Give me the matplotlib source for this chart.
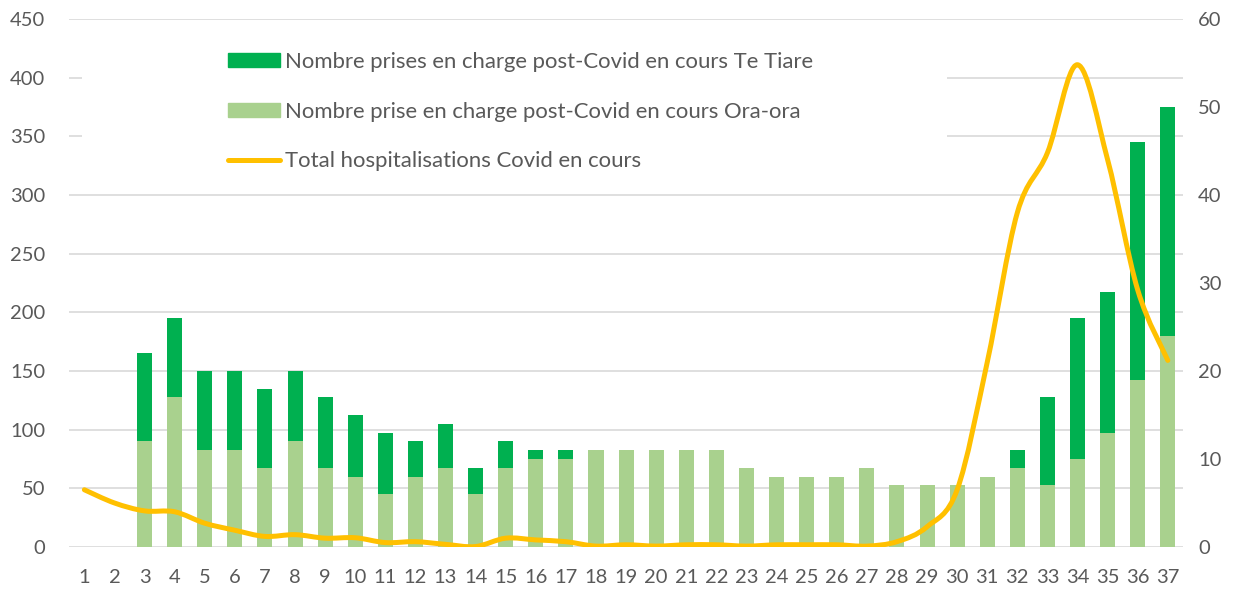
import numpy as np
import matplotlib
matplotlib.use("Agg")
import matplotlib.pyplot as plt
from matplotlib.path import Path
from matplotlib.patches import PathPatch, Patch, Rectangle
from matplotlib.lines import Line2D

plt.rcParams['font.family'] = ['Lato', 'DejaVu Sans']

# semaines 1..37
weeks = list(range(1, 38))
# prises en charge Ora-ora (axe gauche)
ora_ora = [0, 0, 90, 127.5, 82.5, 82.5, 67.5, 90, 67.5, 60, 45, 60, 67.5, 45,
           67.5, 75, 75, 82.5, 82.5, 82.5, 82.5, 82.5, 67.5, 60, 60, 60, 67.5,
           52.5, 52.5, 52.5, 60, 67.5, 52.5, 75, 97.5, 142.5, 180]
# prises en charge Te Tiare (empilees)
te_tiare = [0, 0, 75, 67.5, 67.5, 67.5, 67.5, 60, 60, 52.5, 52.5, 30, 37.5, 22.5,
            22.5, 7.5, 7.5, 0, 0, 0, 0, 0, 0, 0, 0, 0, 0,
            0, 0, 0, 0, 15, 75, 120, 120, 202.5, 195]
# hospitalisations Covid en cours (axe droit)
hosp = [6.5, 5, 4.1, 4, 2.7, 1.9, 1.2, 1.4, 1.0, 1.05, 0.5, 0.6, 0.3, 0.05,
        1.0, 0.8, 0.6, 0.1, 0.25, 0.1, 0.25, 0.25, 0.1, 0.25, 0.25, 0.25, 0.1,
        0.6, 2.3, 6.5, 21, 38, 44.8, 54.8, 44, 29.2, 21.2]

dark_green = '#00B050'
light_green = '#A9D18E'
yellow = '#FFC000'
txt = '#595959'
grid_c = '#D9D9D9'

fig = plt.figure(figsize=(12.39, 5.91), dpi=100)
ax = fig.add_axes([0.0557, 0.0745, 0.8990, 0.8934])
ax2 = ax.twinx()

ax.bar(weeks, ora_ora, width=0.5, color=light_green, zorder=2)
ax.bar(weeks, te_tiare, width=0.5, bottom=ora_ora, color=dark_green, zorder=2)

ax.set_xlim(0.49, 37.5)
ax.set_ylim(0, 450)
ax.set_yticks(range(0, 451, 50))
ax.set_xticks(weeks)
ax.grid(axis='y', color=grid_c, lw=1.2, zorder=0)
ax.set_axisbelow(True)

# courbe lissee (comme Excel) : bezier a partir des points
xs = np.array(weeks, dtype=float)
ys = np.array(hosp, dtype=float)
n = len(xs)
verts = [(xs[0], ys[0])]
codes = [Path.MOVETO]
for i in range(n - 1):
    p0 = np.array([xs[max(i - 1, 0)], ys[max(i - 1, 0)]])
    p1 = np.array([xs[i], ys[i]])
    p2 = np.array([xs[i + 1], ys[i + 1]])
    p3 = np.array([xs[min(i + 2, n - 1)], ys[min(i + 2, n - 1)]])
    c1 = p1 + (p2 - p0) / 6.0
    c2 = p2 - (p3 - p1) / 6.0
    verts += [tuple(c1), tuple(c2), tuple(p2)]
    codes += [Path.CURVE4] * 3
ax2.add_patch(PathPatch(Path(verts, codes), fill=False, edgecolor=yellow,
                        lw=3.6, capstyle='round', joinstyle='round', zorder=3))
ax2.set_ylim(0, 60)
ax2.set_yticks(range(0, 61, 10))

for a in (ax, ax2):
    for s in a.spines.values():
        s.set_visible(False)
    a.tick_params(length=0, colors=txt, labelsize=14.5)
ax.tick_params(axis='x', pad=16)
ax.tick_params(axis='y', pad=17)
ax2.tick_params(axis='y', pad=11)

# fond blanc de la legende
ax2.add_patch(Rectangle((82 / 1239, 1 - 185 / 591), 865 / 1239, 155 / 591,
                        transform=fig.transFigure, facecolor='white',
                        edgecolor='none', zorder=1, clip_on=False))

handles = [Patch(color=dark_green), Patch(color=light_green),
           Line2D([], [], color=yellow, lw=3.6, solid_capstyle='round')]
labels = ["Nombre prises en charge post-Covid en cours Te Tiare",
          "Nombre prise en charge post-Covid en cours Ora-ora",
          "Total hospitalisations Covid en cours"]
leg = ax2.legend(handles, labels, loc='upper left',
                 bbox_to_anchor=(228 / 1239, 1 - 52 / 591),
                 bbox_transform=fig.transFigure, frameon=False,
                 fontsize=15.9, handlelength=2.36, handletextpad=0.23,
                 handleheight=0.62,
                 labelspacing=1.34, borderpad=0, borderaxespad=0)
for t in leg.get_texts():
    t.set_color(txt)
leg.set_zorder(5)

plt.savefig('out.png', dpi=100)
